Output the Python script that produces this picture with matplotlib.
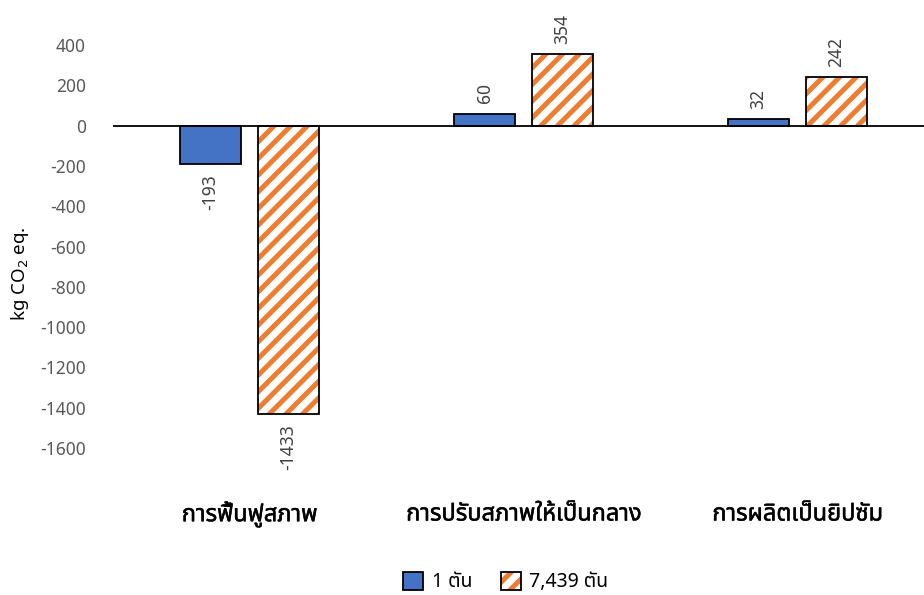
import matplotlib
matplotlib.use("Agg")
import matplotlib.pyplot as plt
import matplotlib.patheffects as pe
from matplotlib import font_manager
from matplotlib.ft2font import FT2Font
from matplotlib.patches import Patch
import numpy as np

categories = ["การฟื้นฟูสภาพ", "การปรับสภาพให้เป็นกลาง", "การผลิตเป็นยิปซัม"]
series_names = ["1 ตัน", "7,439 ตัน"]
values_1t = [-193, 60, 32]
values_7439t = [-1433, 354, 242]
yticks = [400, 200, 0, -200, -400, -600, -800, -1000, -1200, -1400, -1600]

BLUE = "#4472C4"
ORANGE = "#ED7D31"
HATCH = "//"


def find_thai_family():
    preferred = ["Noto Sans Thai", "Noto Sans Thai UI", "Loma", "Garuda", "Tlwg Typo", "Kinnari", "Norasi", "Sarabun", "Waree", "Umpush"]
    found = {}
    for f in font_manager.fontManager.ttflist:
        try:
            cmap = FT2Font(f.fname).get_charmap()
        except Exception:
            continue
        if 0x0E01 in cmap and 0x0E49 in cmap:
            found.setdefault(f.name, f.fname)
    for p in preferred:
        if p in found:
            return p
    return next(iter(found), "DejaVu Sans")


thai = find_thai_family()
plt.rcParams["font.family"] = [thai, "DejaVu Sans"]
plt.rcParams["hatch.linewidth"] = 3.6

fig = plt.figure(figsize=(9.24, 5.95), dpi=100)
# plot area runs past the right edge of the canvas
ax = fig.add_axes([112.5 / 924, 1 - 448 / 595, 822 / 924, 403 / 595])

x = np.arange(len(categories))
w = 0.223
off = 0.142
b1 = ax.bar(x - off, values_1t, w, color=BLUE, edgecolor="black", linewidth=1.3, zorder=3)
# orange stripes, then a black outline on top
ax.bar(x + off, values_7439t, w, color="white", edgecolor=ORANGE, linewidth=0,
       hatch=HATCH, zorder=3)
b2 = ax.bar(x + off, values_7439t, w, fill=False, edgecolor="black", linewidth=1.3, zorder=4)

ax.set_xlim(-0.5, 2.5)
ax.set_ylim(-1600, 400)
ax.set_yticks(yticks)
ax.set_yticklabels([str(v) for v in yticks], fontsize=12.5, color="#595959")
ax.tick_params(axis="y", length=0, pad=19)
ax.tick_params(axis="x", length=0, bottom=False, labelbottom=False)
for s in ax.spines.values():
    s.set_visible(False)
ax.axhline(0, color="black", linewidth=1.3, zorder=5)

for xi, c in zip(x, categories):
    ax.text(xi, -1930, c, ha="center", va="center", fontsize=17, color="black",
            clip_on=False, path_effects=[pe.withStroke(linewidth=0.35, foreground="black")])

for bars, vals in ((b1, values_1t), (b2, values_7439t)):
    for r, v in zip(bars, vals):
        cx = r.get_x() + r.get_width() / 2
        if v >= 0:
            ax.text(cx, v + 50, str(v), rotation=90, ha="center", va="bottom",
                    fontsize=12.5, color="#404040", clip_on=False)
        else:
            ax.text(cx, v - 50, str(v), rotation=90, ha="center", va="top",
                    fontsize=12.5, color="#404040", clip_on=False)

fig.text(20 / 924, 1 - 274 / 595, "kg CO$_2$ eq.", rotation=90, ha="center", va="center",
         fontsize=13.5, color="black")

handles = [Patch(facecolor=BLUE, edgecolor="black", linewidth=1.3),
           Patch(facecolor="white", edgecolor=ORANGE, linewidth=0, hatch="//")]
leg = fig.legend(handles, series_names, loc="center", bbox_to_anchor=(506 / 924, 1 - 582 / 595),
                 ncol=2, frameon=False, fontsize=14, handlelength=1.0, handleheight=1.1,
                 handletextpad=0.45, columnspacing=1.5)
for h in leg.legend_handles[1:]:
    h.set_edgecolor(ORANGE)
    h.set_linewidth(0)
# black outline around the hatched legend key
fig.canvas.draw()
bb = leg.legend_handles[1].get_window_extent()
fig.patches.append(plt.Rectangle((bb.x0 / fig.bbox.width, bb.y0 / fig.bbox.height),
                                 bb.width / fig.bbox.width, bb.height / fig.bbox.height,
                                 transform=fig.transFigure, fill=False, edgecolor="black",
                                 linewidth=1.3, zorder=10))

fig.savefig("out.png", dpi=100)
